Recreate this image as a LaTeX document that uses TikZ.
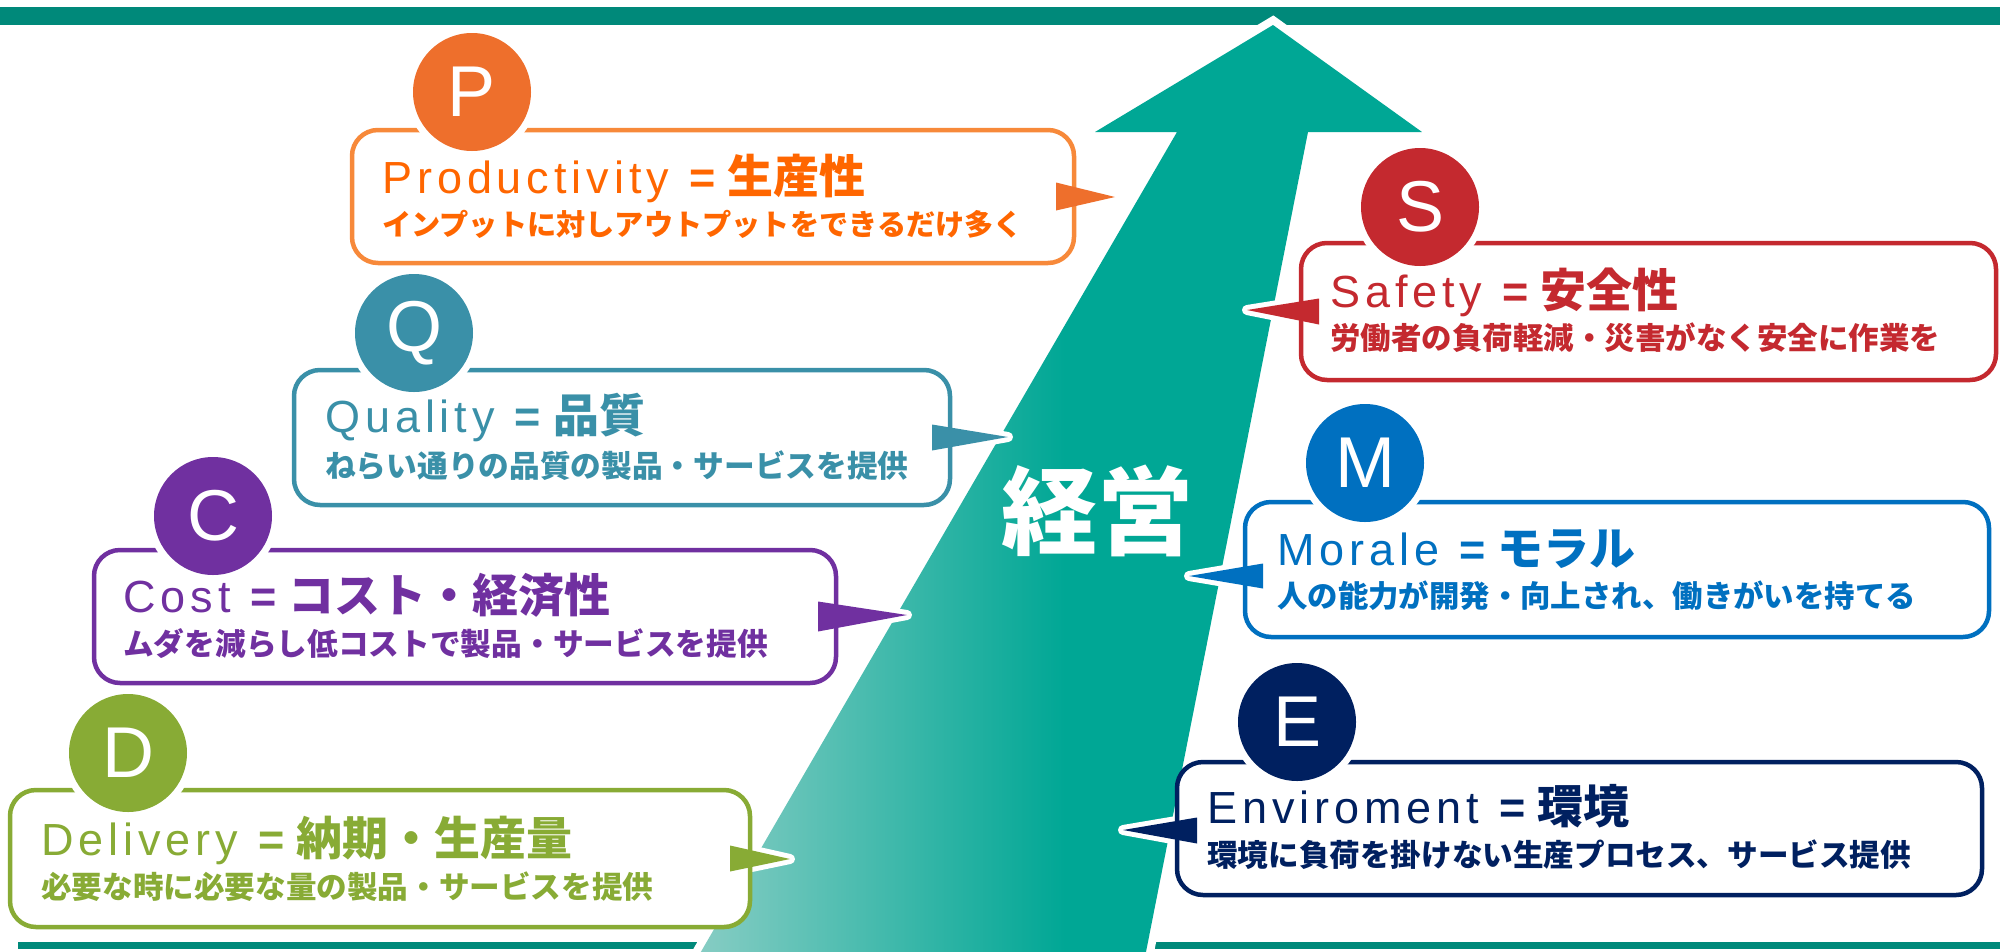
\documentclass[tikz,border=0pt]{standalone}
\usepackage{fontspec}
\setmainfont{Liberation Sans}
\newfontfamily\jp{Noto Sans CJK JP}
\newfontfamily\lat[LetterSpace=11]{Liberation Sans}
\usetikzlibrary{calc}
\definecolor{lineteal}{HTML}{00897A}
\definecolor{arrteal}{HTML}{00A795}
\definecolor{arrlight}{HTML}{88CDC4}
\definecolor{oC}{HTML}{EE6F2C}
\definecolor{oB}{HTML}{F7893A}
\definecolor{oT}{HTML}{FF6600}
\definecolor{qC}{HTML}{3A90A8}
\definecolor{cC}{HTML}{7030A0}
\definecolor{dC}{HTML}{88AB35}
\definecolor{sC}{HTML}{C4292F}
\definecolor{mC}{HTML}{0070C0}
\definecolor{eC}{HTML}{002060}
\pgfdeclarehorizontalshading{arrsh}{100bp}{color(0bp)=(arrlight); color(25bp)=(arrlight); color(50bp)=(arrteal); color(100bp)=(arrteal)}
\pgfdeclarelayer{back}
\pgfsetlayers{back,main}
\newcommand\mkttl[2]{{\lat\fontsize{45}{50}\selectfont #1}\hspace{20pt}{\fontsize{45}{50}\selectfont\bfseries =}\hspace{12pt}{\jp\bfseries\fontsize{46}{50}\selectfont #2}}
\begin{document}
\begin{tikzpicture}[x=1pt,y=-1pt,
  box/.style={draw=#1, line width=4.5pt, rounded corners=26pt, fill=white, inner sep=0pt, outer sep=0pt},
  badge/.style={circle, fill=#1, preaction={draw=white, line width=14pt}, minimum size=118pt, inner sep=0pt, outer sep=0pt, text=white, font=\fontsize{72}{72}\selectfont},
  ttlnode/.style={anchor=base west, inner sep=0pt, text=#1},
  subnode/.style={anchor=base west, inner sep=0pt, text=#1},
  ptr/.style={fill=#1},
  halo/.style={draw=white, line width=10pt, line join=round}
]
\useasboundingbox (0,0) rectangle (2000,951);

% boxes
\node[box=oB, minimum width=722pt, minimum height=133pt] (Pbox) at (713,196.5) {};
\node[box=qC, minimum width=656pt, minimum height=135pt] (Qbox) at (622,437.5) {};
\node[box=cC, minimum width=742pt, minimum height=133pt] (Cbox) at (465,616.5) {};
\node[box=dC, minimum width=740pt, minimum height=137pt] (Dbox) at (380,858.5) {};
\node[box=sC, minimum width=695pt, minimum height=137pt] (Sbox) at (1648.5,311.5) {};
\node[box=mC, minimum width=744pt, minimum height=135pt] (Mbox) at (1617,569.5) {};
\node[box=eC, minimum width=805pt, minimum height=133pt] (Ebox) at (1579.5,828.5) {};

% pointer tips
\coordinate (Ptip) at (1115,197);
\coordinate (Qtip) at (1008,437);
\coordinate (Ctip) at (907,615);
\coordinate (Dtip) at (790,859);
\coordinate (Stip) at (1247,310);
\coordinate (Mtip) at (1189,576);
\coordinate (Etip) at (1123,830);

% arrow corners
\coordinate (Atip) at (1273,25);
\coordinate (Ahr) at (1422,132);
\coordinate (Asr) at (1308,132);
\coordinate (Abr) at (1144,962);
\coordinate (Abl) at (695,962);
\coordinate (Asl) at (1177,132);
\coordinate (Ahl) at (1095,132);

\begin{pgfonlayer}{back}
  \fill[lineteal] (0,7) rectangle (2000,25);
  \fill[lineteal] (18,942) rectangle (2000,949);
  \draw[white, line width=16pt, line join=miter] (Atip) -- (Ahr) -- (Asr) -- (Abr) -- (Abl) -- (Asl) -- (Ahl) -- cycle;
  \begin{scope}
    \clip (Atip) -- (Ahr) -- (Asr) -- (Abr) -- (Abl) -- (Asl) -- (Ahl) -- cycle;
    \shade[shading=arrsh] (695,0) rectangle (1435,962);
  \end{scope}
  % pointer halos
  \draw[halo] ($(Pbox.east)+(-18,-14)$) -- (Ptip) -- ($(Pbox.east)+(-18,14)$) -- cycle;
  \draw[halo] ($(Qbox.east)+(-18,-13)$) -- (Qtip) -- ($(Qbox.east)+(-18,13)$) -- cycle;
  \draw[halo] ($(Cbox.east)+(-18,-15)$) -- (Ctip) -- ($(Cbox.east)+(-18,15)$) -- cycle;
  \draw[halo] ($(Dbox.east)+(-20,-13)$) -- (Dtip) -- ($(Dbox.east)+(-20,13)$) -- cycle;
  \draw[halo] ($(Sbox.west)+(18,-13)$) -- (Stip) -- ($(Sbox.west)+(18,13)$) -- cycle;
  \draw[halo] ($(Mbox.west)+(18,-6)$) -- (Mtip) -- ($(Mbox.west)+(18,19)$) -- cycle;
  \draw[halo] ($(Ebox.west)+(20,-11)$) -- (Etip) -- ($(Ebox.west)+(20,15)$) -- cycle;
\end{pgfonlayer}

% pointers
\fill[ptr=oC] ($(Pbox.east)+(-18,-14)$) -- (Ptip) -- ($(Pbox.east)+(-18,14)$) -- cycle;
\fill[ptr=qC] ($(Qbox.east)+(-18,-13)$) -- (Qtip) -- ($(Qbox.east)+(-18,13)$) -- cycle;
\fill[ptr=cC] ($(Cbox.east)+(-18,-15)$) -- (Ctip) -- ($(Cbox.east)+(-18,15)$) -- cycle;
\fill[ptr=dC] ($(Dbox.east)+(-20,-13)$) -- (Dtip) -- ($(Dbox.east)+(-20,13)$) -- cycle;
\fill[ptr=sC] ($(Sbox.west)+(18,-13)$) -- (Stip) -- ($(Sbox.west)+(18,13)$) -- cycle;
\fill[ptr=mC] ($(Mbox.west)+(18,-6)$) -- (Mtip) -- ($(Mbox.west)+(18,19)$) -- cycle;
\fill[ptr=eC] ($(Ebox.west)+(20,-11)$) -- (Etip) -- ($(Ebox.west)+(20,15)$) -- cycle;

% badges
\node[badge=oC] (Pc) at ($(Pbox.north west)+(120,-38)$) {P};
\node[badge=qC] (Qc) at ($(Qbox.north west)+(120,-37)$) {Q};
\node[badge=cC] (Cc) at ($(Cbox.north west)+(119,-34)$) {C};
\node[badge=dC] (Dc) at ($(Dbox.north west)+(118,-37)$) {D};
\node[badge=sC] (Sc) at ($(Sbox.north west)+(119,-36)$) {S};
\node[badge=mC] (Mc) at ($(Mbox.north west)+(120,-39)$) {M};
\node[badge=eC] (Ec) at ($(Ebox.north west)+(120,-40)$) {E};

% titles
\node[ttlnode=oT] (Pt) at ($(Pbox.north west)+(30,63)$) {\mkttl{Productivity}{生産性}};
\node[ttlnode=qC] (Qt) at ($(Qbox.north west)+(31,62)$) {\mkttl{Quality}{品質}};
\node[ttlnode=cC] (Ct) at ($(Cbox.north west)+(29,62)$) {\mkttl{Cost}{コスト・経済性}};
\node[ttlnode=dC] (Dt) at ($(Dbox.north west)+(31,65)$) {\mkttl{Delivery}{納期・生産量}};
\node[ttlnode=sC] (St) at ($(Sbox.north west)+(29,64)$) {\mkttl{Safety}{安全性}};
\node[ttlnode=mC] (Mt) at ($(Mbox.north west)+(32,63)$) {\mkttl{Morale}{モラル}};
\node[ttlnode=eC] (Et) at ($(Ebox.north west)+(30,61)$) {\mkttl{Enviroment}{環境}};

% subtitles
\node[subnode=oT, font=\jp\bfseries\fontsize{29.2}{30}\selectfont] (Ps) at ($(Pbox.north west)+(30,105)$) {インプットに対しアウトプットをできるだけ多く};
\node[subnode=qC, font=\jp\bfseries\fontsize{30.7}{31}\selectfont] (Qs) at ($(Qbox.north west)+(31,107)$) {ねらい通りの品質の製品・サービスを提供};
\node[subnode=cC, font=\jp\bfseries\fontsize{30.7}{31}\selectfont] (Cs) at ($(Cbox.north west)+(29,105)$) {ムダを減らし低コストで製品・サービスを提供};
\node[subnode=dC, font=\jp\bfseries\fontsize{30.6}{31}\selectfont] (Ds) at ($(Dbox.north west)+(31,108)$) {必要な時に必要な量の製品・サービスを提供};
\node[subnode=sC, font=\jp\bfseries\fontsize{30.5}{31}\selectfont] (Ss) at ($(Sbox.north west)+(29,106)$) {労働者の負荷軽減・災害がなく安全に作業を};
\node[subnode=mC, font=\jp\bfseries\fontsize{30.4}{31}\selectfont] (Ms) at ($(Mbox.north west)+(32,105)$) {人の能力が開発・向上され、働きがいを持てる};
\node[subnode=eC, font=\jp\bfseries\fontsize{30.6}{31}\selectfont] (Es) at ($(Ebox.north west)+(30,104)$) {環境に負荷を掛けない生産プロセス、サービス提供};

% center label
\node[text=white, inner sep=0pt, font=\jp\bfseries\fontsize{96}{96}\selectfont] (keiei) at (1097,511) {経営};
\end{tikzpicture}
\end{document}
